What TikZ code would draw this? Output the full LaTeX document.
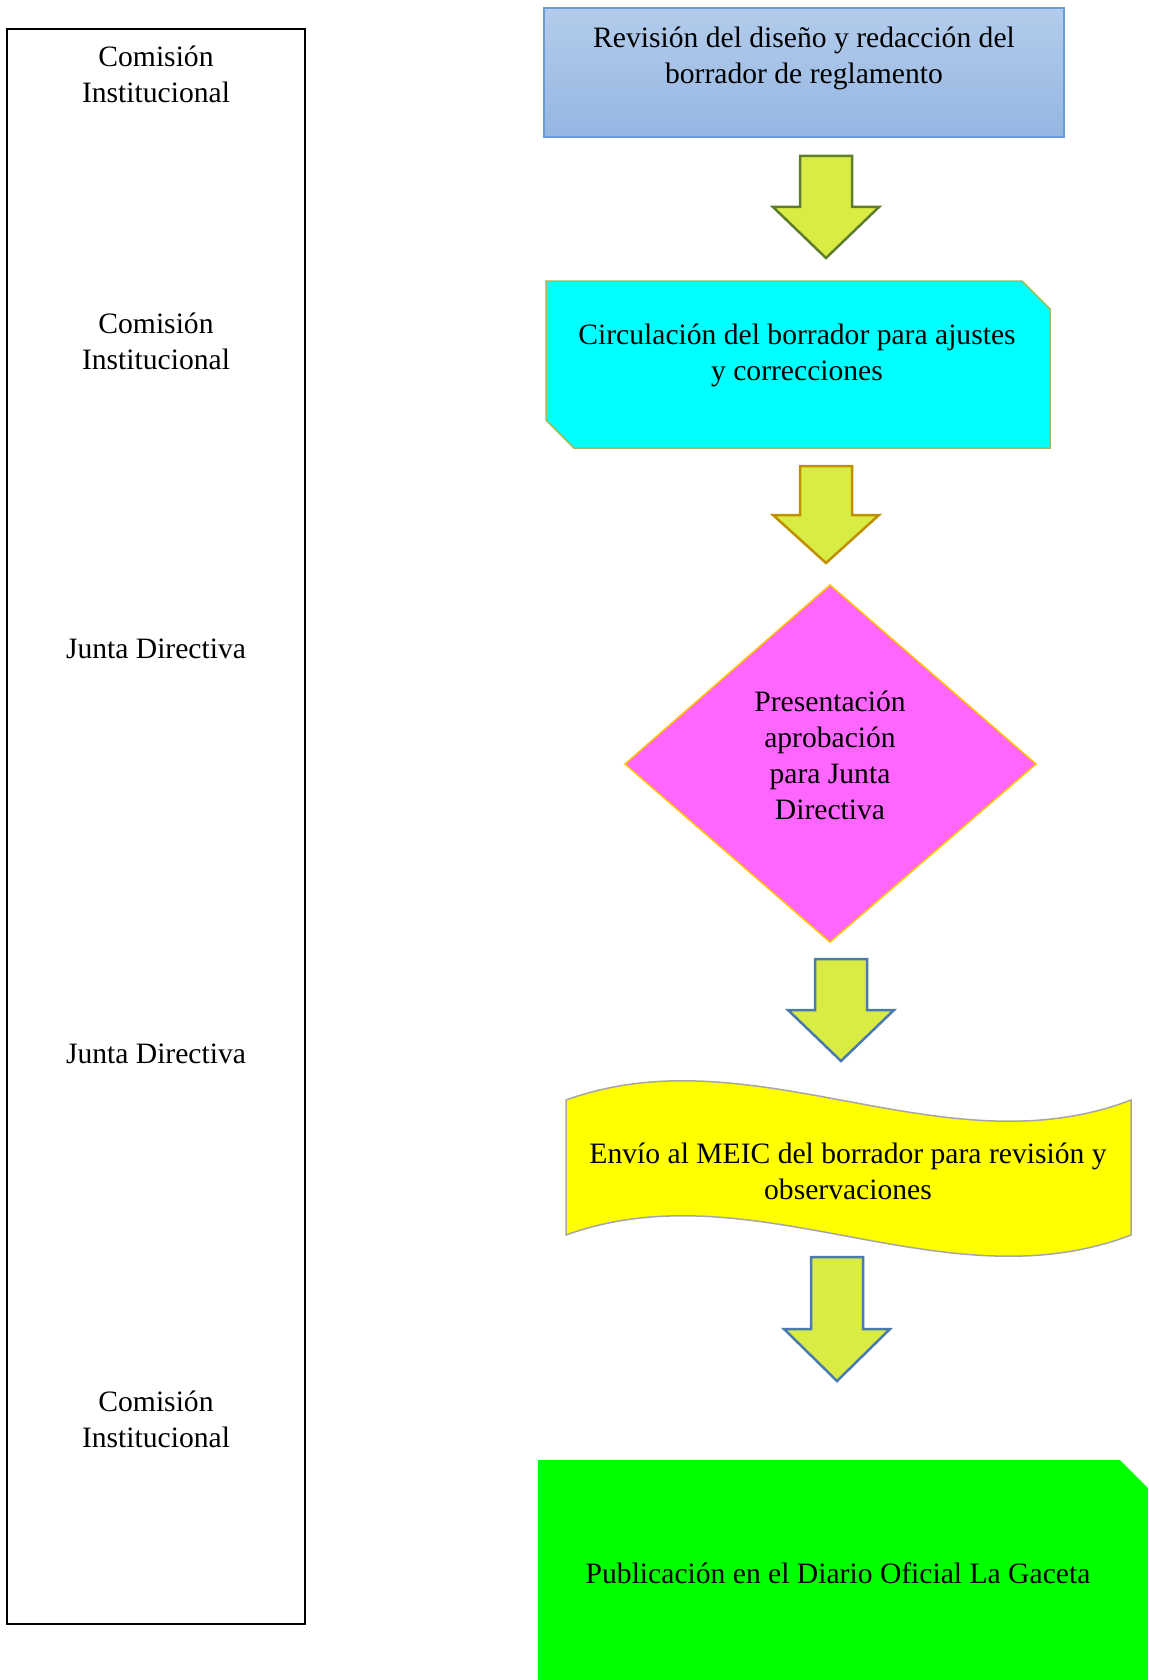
\documentclass[tikz,border=0pt]{standalone}
\usepackage{fontspec}
\setmainfont{Liberation Serif}
\definecolor{azularriba}{HTML}{B3CCEB}
\definecolor{azulabajo}{HTML}{95B6E2}
\definecolor{azulborde}{HTML}{6A9BD8}
\definecolor{verdelima}{HTML}{D9EC44}
\definecolor{bordeverde}{HTML}{5E7E2E}
\definecolor{bordeocre}{HTML}{C09000}
\definecolor{bordeazul}{HTML}{4A7AAE}
\definecolor{bordeoliva}{HTML}{9BBB59}
\definecolor{magenta2}{HTML}{FF66FF}
\definecolor{bordeoro}{HTML}{FFC000}
\definecolor{cian}{HTML}{00FFFF}
\definecolor{amarillo}{HTML}{FFFF00}
\definecolor{verdevivo}{HTML}{00FF00}
\newcommand{\flecha}[5]{\draw[flecha,draw=#5] (#1-26,#2) -- (#1+26,#2) -- (#1+26,#3) -- (#1+53,#3) -- (#1,#4) -- (#1-53,#3) -- (#1-26,#3) -- cycle;}

\begin{document}
\begin{tikzpicture}[x=0.5pt,y=-0.5pt]
                        \tikzstyle{texto}=[font=\fontsize{14.8}{18}\selectfont, align=center, inner sep=0pt]
                        \tikzstyle{flecha}=[fill=verdelima, line width=1.25pt, line join=miter]
                        \useasboundingbox (0,0) rectangle (1148,1680);
                        % responsables
                        \draw[line width=0.6pt] (7,29) rectangle (305,1624);
                        \node[texto] (resp1) at (156,74) {Comisión\\Institucional};
                        \node[texto] (resp2) at (156,341) {Comisión\\Institucional};
                        \node[texto] (resp3) at (156,649) {Junta Directiva};
                        \node[texto] (resp4) at (156,1054) {Junta Directiva};
                        \node[texto] (resp5) at (156,1419) {Comisión\\Institucional};
                        % pasos
                        \draw[top color=azularriba, bottom color=azulabajo, draw=azulborde, line width=0.75pt] (544,8) rectangle (1064,137);
                        \node[texto] (revision) at (804,58) {Revisión del diseño y redacción del\\borrador de reglamento};
                        \flecha{826}{156}{207}{258}{bordeverde}
                        \draw[fill=cian, draw=bordeoliva, line width=0.75pt] (546,281) -- (1022,281) -- (1050,309) -- (1050,448) -- (574,448) -- (546,420) -- cycle;
                        \node[texto] (circulacion) at (797,355) {Circulación del borrador para ajustes\\y correcciones};
                        \flecha{826}{466}{515}{563}{bordeocre}
                        \draw[fill=magenta2, draw=bordeoro, line width=0.75pt] (830,585) -- (1036,764) -- (830,942) -- (625,764) -- cycle;
                        \node[texto] (presentacion) at (830,755) {Presentación\\aprobación\\para Junta\\Directiva};
                        \flecha{841}{959}{1010}{1061}{bordeazul}
                        \draw[fill=amarillo, draw=gray!70, line width=0.75pt] (566,1100) .. controls (754,1032) and (943,1172) .. (1131,1100) -- (1131,1235) .. controls (943,1307) and (754,1167) .. (566,1235) -- cycle;
                        \node[texto] (envio) at (848,1171) {Envío al MEIC del borrador para revisión y\\observaciones};
                        \flecha{837}{1257}{1329}{1381}{bordeazul}
                        \fill[verdevivo] (538,1460) -- (1120,1460) -- (1148,1488) -- (1148,1680) -- (538,1680) -- cycle;
                        \node[texto] (publicacion) at (838,1573) {Publicación en el Diario Oficial La Gaceta};
                    \end{tikzpicture}
\end{document}
